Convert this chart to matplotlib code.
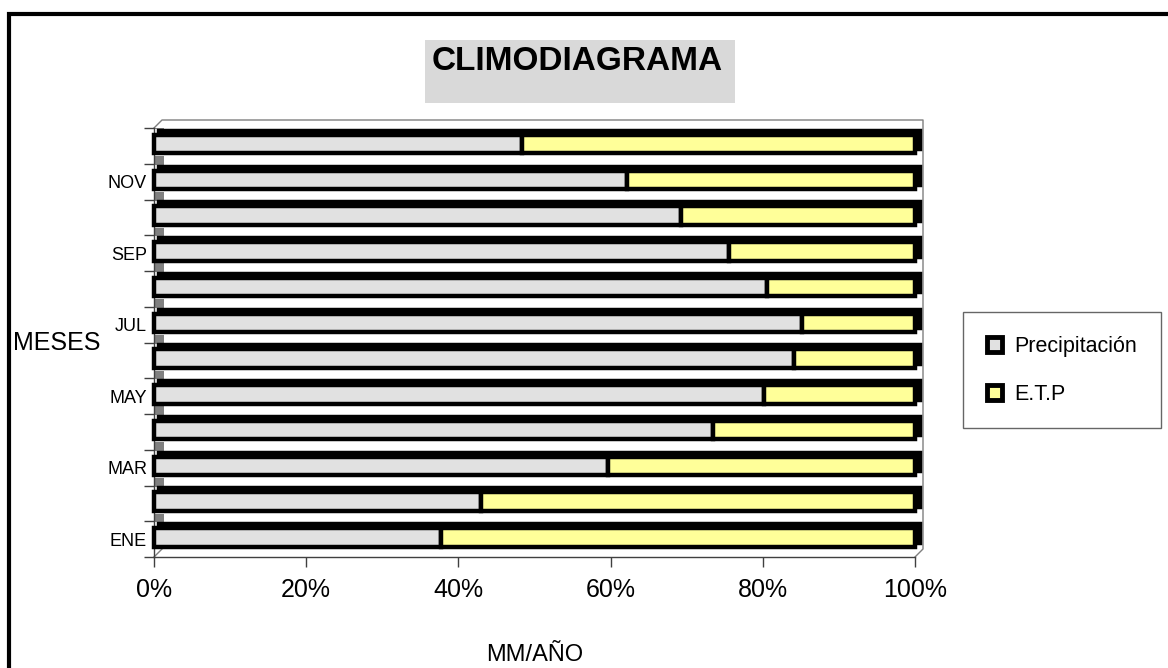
"""Climodiagrama: monthly share of precipitation vs. ETP as 100% stacked 3D-style bars."""

import matplotlib

matplotlib.use("Agg")

import matplotlib.pyplot as plt  # noqa: E402
import numpy as np  # noqa: E402
from matplotlib.patches import Rectangle  # noqa: E402
from matplotlib.ticker import PercentFormatter  # noqa: E402

MONTHS = ["ENE", "FEB", "MAR", "ABR", "MAY", "JUN", "JUL", "AGO", "SEP", "OCT", "NOV", "DIC"]
LABELED = ["ENE", "MAR", "MAY", "JUL", "SEP", "NOV"]
PRECIP = [37.7, 43.0, 59.7, 73.5, 80.1, 84.1, 85.1, 80.6, 75.5, 69.3, 62.2, 48.4]
ETP = [62.3, 57.0, 40.3, 26.5, 19.9, 15.9, 14.9, 19.4, 24.5, 30.7, 37.8, 51.6]
SERIES = ["Precipitación", "E.T.P"]

GREY_FILL = "#e1e1e1"
YELLOW = "#ffff99"
W, H = 1168, 668

plt.rcParams["font.family"] = ["Liberation Sans", "DejaVu Sans"]

total = np.array(PRECIP) + np.array(ETP)
p_share = np.array(PRECIP) / total
e_share = np.array(ETP) / total
y = np.arange(len(MONTHS))

fig = plt.figure(figsize=(W / 100, H / 100), dpi=100)
ax = fig.add_axes([154 / W, 111 / H, 761 / W, 429 / H])
ax.set_xlim(0, 1)
ax.set_ylim(-0.5, len(MONTHS) - 0.5)

# bar geometry (data units)
BAR_H, Y_SHIFT = 0.52, 0.05
DX, DY = 0.006, 0.11
LW = 3.2

# grey left-wall pieces showing in the gaps
ax.barh(y + Y_SHIFT + BAR_H / 2 + DY + 0.17, 0.013, height=0.24, color="#808080",
        zorder=1)
# depth (top and right faces)
ax.barh(y + Y_SHIFT + DY, p_share + e_share, left=DX, height=BAR_H, color="black",
        edgecolor="black", linewidth=LW, zorder=2, clip_on=False)
# front faces
ax.barh(y + Y_SHIFT, p_share, height=BAR_H, color=GREY_FILL, edgecolor="black",
        linewidth=LW, zorder=3, clip_on=False)
ax.barh(y + Y_SHIFT, e_share, left=p_share, height=BAR_H, color=YELLOW,
        edgecolor="black", linewidth=LW, zorder=3, clip_on=False)

# back wall of the 3D box
dxa, dya = 8 / 761, 8 / 429
wall = dict(color="#7f7f7f", linewidth=1, transform=ax.transAxes, clip_on=False, zorder=0)
ax.plot([0, dxa, 1 + dxa, 1 + dxa, 1], [1, 1 + dya, 1 + dya, dya, 0], **wall)
ax.plot([0, dxa], [0, dya], **wall)

for side in ("top", "right"):
    ax.spines[side].set_visible(False)
for side in ("left", "bottom"):
    ax.spines[side].set_color("#404040")
    ax.spines[side].set_linewidth(1)

ax.set_xticks(np.linspace(0, 1, 6))
ax.xaxis.set_major_formatter(PercentFormatter(1.0, decimals=0))
ax.tick_params(axis="x", length=7, width=1, color="#404040", labelsize=18, pad=8)

ax.set_yticks([MONTHS.index(m) for m in LABELED])
ax.set_yticklabels(LABELED)
ax.set_yticks(np.arange(-0.5, len(MONTHS)), minor=True)
ax.tick_params(axis="y", which="major", length=0, labelsize=13, pad=5)
ax.tick_params(axis="y", which="minor", length=7, width=1, color="#404040")

fig.text(57 / W, 1 - 343 / H, "MESES", ha="center", va="center", fontsize=18)
fig.text(535 / W, 1 - 655 / H, "MM/AÑO", ha="center", va="center", fontsize=17)

# title on a grey panel
fig.patches.append(Rectangle((425 / W, 1 - 103 / H), 310 / W, 63 / H,
                             transform=fig.transFigure, facecolor="#d9d9d9",
                             edgecolor="none", zorder=0))
fig.text(577 / W, 1 - 62 / H, "CLIMODIAGRAMA", ha="center", va="center",
         fontsize=24, fontweight="bold")

# legend
handles = [Rectangle((0, 0), 1, 1, facecolor=c, edgecolor="black", linewidth=3.5)
           for c in (GREY_FILL, YELLOW)]
leg = fig.legend(handles, SERIES, loc="upper left", bbox_to_anchor=(963 / W, 1 - 312 / H),
                 frameon=True, fancybox=False, edgecolor="#404040", fontsize=15.5,
                 borderpad=1.1, handlelength=0.7, handleheight=0.7, handletextpad=0.6,
                 labelspacing=1.25, borderaxespad=0)
leg.get_frame().set_linewidth(1)

# outer chart border (cut at right and bottom in the original)
fig.patches.append(Rectangle((9 / W, -0.1), 1.2, 1.1 - 14 / H, transform=fig.transFigure,
                             fill=False, edgecolor="black", linewidth=3))

fig.savefig("out.png", dpi=100, facecolor="white")
